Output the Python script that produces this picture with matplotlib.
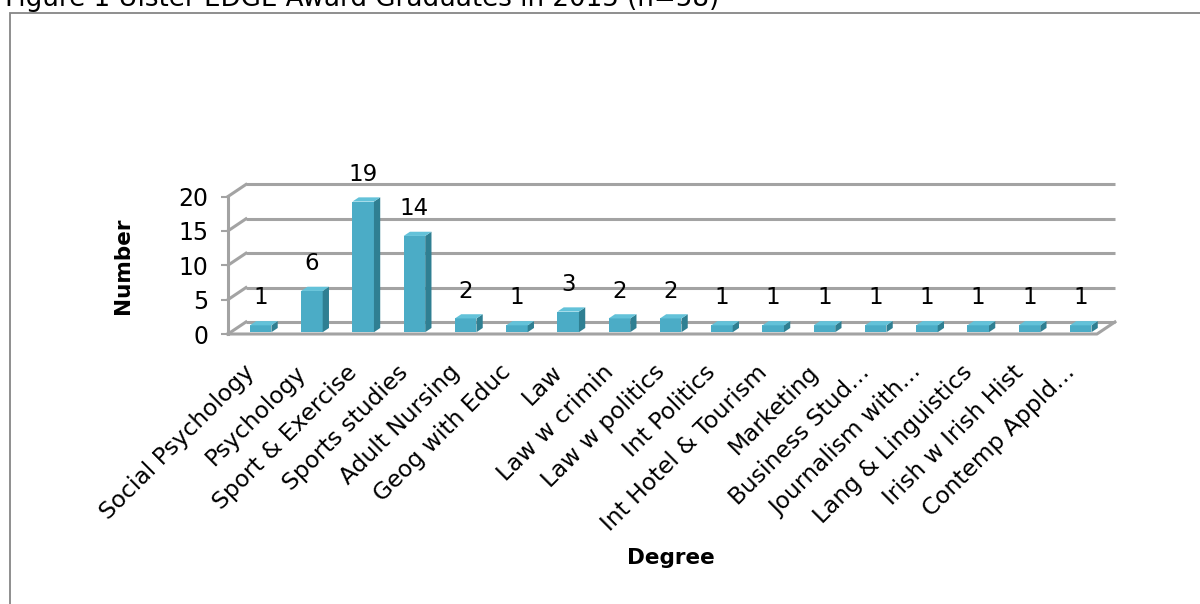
import matplotlib
matplotlib.use("Agg")
import matplotlib.pyplot as plt
from matplotlib.patches import Polygon, Rectangle
from matplotlib.transforms import ScaledTranslation

plt.rcParams['font.family'] = ['DejaVu Sans']

degrees = ['Social Psychology', 'Psychology', 'Sport & Exercise', 'Sports studies',
           'Adult Nursing', 'Geog with Educ', 'Law', 'Law w crimin', 'Law w politics',
           'Int Politics', 'Int Hotel & Tourism', 'Marketing', 'Business Stud\u2026',
           'Journalism with\u2026', 'Lang & Linguistics', 'Irish w Irish Hist',
           'Contemp Appld\u2026']
counts = [1, 6, 19, 14, 2, 1, 3, 2, 2, 1, 1, 1, 1, 1, 1, 1, 1]
yticks = [0, 5, 10, 15, 20]

# colours
front_c = '#4bacc6'
side_c = '#2f7f92'
top_c = '#63c2d9'
grid_c = '#a3a3a3'

fig = plt.figure(figsize=(12, 6.04), dpi=100)
ax = fig.add_axes([228/1200, 1-334/604, 869/1200, 137.5/604])

xl, xr = -0.585, 16.37
ax.set_xlim(xl, xr)
ax.set_ylim(0, 20)

# depth of the pseudo 3d box in data units
ddx, ddy = 0.35, 1.75
f, b = 0.15, 0.35
w = 0.42

# back wall + floor
for y in yticks:
    ax.plot([xl + ddx, xr + ddx], [y + ddy, y + ddy], color=grid_c, lw=2.2,
            solid_capstyle='butt', clip_on=False, zorder=1)
    ax.plot([xl, xl + ddx], [y, y + ddy], color=grid_c, lw=2.2, clip_on=False, zorder=1)
ax.plot([xl, xr, xr + ddx], [0, 0, ddy], color=grid_c, lw=2.2, clip_on=False, zorder=1)
ax.plot([xl, xl], [0, 20], color=grid_c, lw=2.2, clip_on=False, zorder=1)

# bars
for i, v in enumerate(counts):
    x0 = i - w/2 + f*ddx
    x1 = x0 + w
    y0 = f*ddy
    bx, by = b*ddx, b*ddy
    ax.add_patch(Rectangle((x0, y0), w, v, facecolor=front_c, edgecolor='none',
                           clip_on=False, zorder=3))
    ax.add_patch(Polygon([(x1, y0), (x1 + bx, y0 + by), (x1 + bx, y0 + v + by), (x1, y0 + v)],
                         facecolor=side_c, edgecolor='none', clip_on=False, zorder=3))
    ax.add_patch(Polygon([(x0, y0 + v), (x1, y0 + v), (x1 + bx, y0 + v + by), (x0 + bx, y0 + v + by)],
                         facecolor=top_c, edgecolor='none', clip_on=False, zorder=3))
    ax.text(i + 0.05, v + 4.25, str(v), ha='center', va='center', fontsize=16.5, zorder=4)

for s in ax.spines.values():
    s.set_visible(False)

ax.set_yticks(yticks)
ax.set_yticklabels([str(t) for t in yticks], fontsize=17)
ax.tick_params(axis='y', length=5, width=1.5, color=grid_c, pad=9)
ax.set_xticks(range(len(degrees)))
ax.set_xticklabels(degrees, rotation=45, ha='right', va='center',
                   rotation_mode='anchor', fontsize=16.8)
ax.tick_params(axis='x', length=0, pad=25)
shift = ScaledTranslation(-7/100, 0, fig.dpi_scale_trans)
for lab in ax.get_xticklabels():
    lab.set_transform(lab.get_transform() + shift)

ax.set_ylabel('Number', fontsize=15.5, fontweight='bold')
ax.yaxis.set_label_coords((133-228)/869, 0.5)
ax.set_xlabel('Degree', fontsize=15.5, fontweight='bold')
ax.xaxis.set_label_coords((671-228)/869, (334-548)/137.5)

# frame and cut-off caption
fig.add_artist(Rectangle((10/1200, -0.2), 1.5, 1.2 - 13/604, transform=fig.transFigure,
                         facecolor='none', edgecolor='#868686', lw=1.3))
fig.text(5/1200, 1 - 6/604, 'Figure 1 Ulster EDGE Award Graduates in 2015 (n=58)',
         ha='left', va='baseline', fontsize=18.8)

fig.savefig('out.png', dpi=100)
